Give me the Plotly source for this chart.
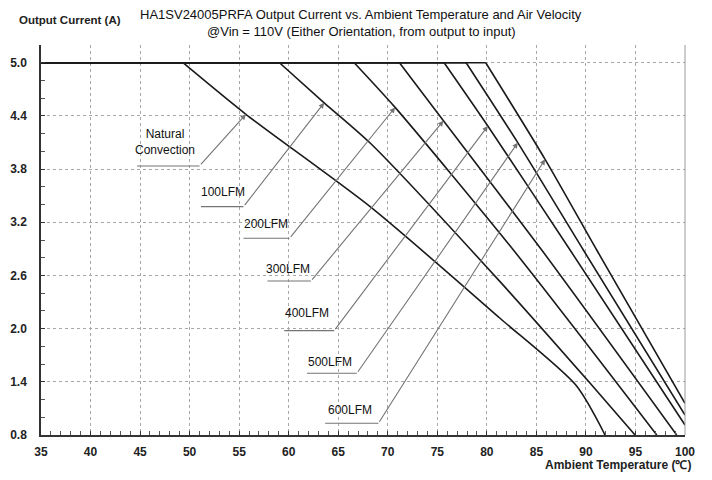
import numpy as np
import plotly.graph_objects as go

# ---------------- data ----------------
series_names = ["Natural Convection", "100LFM", "200LFM", "300LFM", "400LFM", "500LFM", "600LFM"]
label_texts = ["Natural<br>Convection", "100LFM", "200LFM", "300LFM", "400LFM", "500LFM", "600LFM"]

nc_temp = [35, 49.33, 55.68, 68.22, 81.33, 89.0, 91.93]
nc_curr = [5.0, 5.0, 4.418, 3.376, 2.117, 1.36, 0.8]

lfm100_temp = [35, 59.07, 63.58, 68.22, 81.33, 90.43, 94.96]
lfm100_curr = [5.0, 5.0, 4.548, 4.094, 2.530, 1.383, 0.8]

lfm200_temp = [35, 66.61, 70.74, 82.68, 97.15]
lfm200_curr = [5.0, 5.0, 4.496, 2.887, 0.8]

lfm300_temp = [35, 71.18, 75.62, 85.54, 99.16]
lfm300_curr = [5.0, 5.0, 4.346, 2.887, 0.8]

lfm400_temp = [35, 75.69, 80.10, 88.40, 100]
lfm400_curr = [5.0, 5.0, 4.286, 2.887, 0.913]

lfm500_temp = [35, 77.91, 83.12, 89.74, 100]
lfm500_curr = [5.0, 5.0, 4.098, 2.887, 1.026]

lfm600_temp = [35, 79.89, 85.88, 91.09, 100]
lfm600_curr = [5.0, 5.0, 3.910, 2.887, 1.158]

# temperature at which each label's arrow touches its curve
arrow_temp = [55.68, 63.58, 70.74, 75.62, 80.10, 83.12, 85.88]

x_ticks = list(range(35, 101, 5))
y_ticks = [0.8, 1.4, 2.0, 2.6, 3.2, 3.8, 4.4, 5.0]
y_tick_labels = ["0.8", "1.4", "2.0", "2.6", "3.2", "3.8", "4.4", "5.0"]

title_line1 = "HA1SV24005PRFA Output Current vs. Ambient Temperature and Air Velocity"
title_line2 = "@Vin = 110V (Either Orientation, from output to input)"
y_title = "Output Current (A)"
x_title = "Ambient Temperature (℃)"

# ---------------- label layout (positions in axis units) ----------------
underline_x0 = [44.69, 51.14, 55.44, 57.86, 59.55, 61.84, 63.68]
underline_x1 = [51.00, 55.44, 60.08, 62.24, 64.59, 66.88, 69.06]
underline_y = [3.835, 3.376, 3.019, 2.537, 1.977, 1.496, 0.932]
text_x = [47.54, 53.36, 57.73, 59.88, 61.84, 64.19, 66.2]
text_y = [4.111, 3.545, 3.177, 2.669, 2.173, 1.624, 1.082]

temps = [nc_temp, lfm100_temp, lfm200_temp, lfm300_temp, lfm400_temp, lfm500_temp, lfm600_temp]
currs = [nc_curr, lfm100_curr, lfm200_curr, lfm300_curr, lfm400_curr, lfm500_curr, lfm600_curr]

FONT = "Liberation Sans, Arial, sans-serif"
CURVE_COLOR = "#1a1a1a"
LEADER_COLOR = "#747474"

fig = go.Figure()
for name, t, c in zip(series_names, temps, currs):
    # flat full-load segment
    fig.add_trace(go.Scatter(x=t[:2], y=c[:2], mode="lines", name=name,
                             line=dict(color=CURVE_COLOR, width=1.6),
                             showlegend=False, hoverinfo="skip"))
    # derating segment
    fig.add_trace(go.Scatter(x=t[1:], y=c[1:], mode="lines", name=name,
                             line=dict(color=CURVE_COLOR, width=1.6, shape="spline", smoothing=0.7),
                             showlegend=False, hoverinfo="skip"))

annotations = []
shapes = []
for i in range(len(series_names)):
    tip_x = arrow_temp[i]
    tip_y = float(np.interp(tip_x, temps[i], currs[i]))
    shapes.append(dict(type="line", xref="x", yref="y",
                       x0=underline_x0[i], x1=underline_x1[i],
                       y0=underline_y[i], y1=underline_y[i],
                       line=dict(color=LEADER_COLOR, width=1.1)))
    annotations.append(dict(x=tip_x, y=tip_y, xref="x", yref="y",
                            ax=underline_x1[i], ay=underline_y[i], axref="x", ayref="y",
                            text="", showarrow=True, arrowhead=2, arrowsize=1.0,
                            arrowwidth=1.1, arrowcolor=LEADER_COLOR, standoff=0))
    annotations.append(dict(x=text_x[i], y=text_y[i], xref="x", yref="y",
                            text=label_texts[i], showarrow=False,
                            xanchor="center", yanchor="middle",
                            font=dict(family=FONT, size=12, color="#111")))

# right frame line
shapes.append(dict(type="line", xref="paper", yref="paper", x0=1, x1=1, y0=0, y1=1,
                   line=dict(color="#9a9a9a", width=1)))

# titles (paper coords relative to the plot area: 644 x 390 px)
annotations.append(dict(xref="paper", yref="paper", x=0.497, y=1.077,
                        text=title_line1, showarrow=False,
                        xanchor="center", yanchor="middle",
                        font=dict(family=FONT, size=13, color="#111")))
annotations.append(dict(xref="paper", yref="paper", x=0.497, y=1.035,
                        text=title_line2, showarrow=False,
                        xanchor="center", yanchor="middle",
                        font=dict(family=FONT, size=13, color="#111")))
annotations.append(dict(xref="paper", yref="paper", x=0.0455, y=1.063,
                        text=y_title, showarrow=False,
                        xanchor="center", yanchor="middle",
                        font=dict(family=FONT, size=11.5, color="#222", weight="bold")))
annotations.append(dict(xref="paper", yref="paper", x=1.013, y=-0.078,
                        text=x_title, showarrow=False,
                        xanchor="right", yanchor="middle",
                        font=dict(family=FONT, size=12, color="#222", weight="bold")))

# page body adds an 8 px offset, margins compensate for it
fig.update_layout(
    width=712, height=480,
    margin=dict(l=33, r=35, t=37, b=53, autoexpand=False),
    paper_bgcolor="white", plot_bgcolor="white",
    annotations=annotations,
    shapes=shapes,
    showlegend=False,
)

fig.update_xaxes(range=[35, 100], tickvals=x_ticks, automargin=False,
                 showgrid=True, gridcolor="#a8a8a8", griddash="dot", gridwidth=1,
                 showline=True, linecolor="#333", linewidth=1.5,
                 ticks="inside", ticklen=4, tickcolor="#333", ticklabelstandoff=5,
                 minor=dict(dtick=1, tick0=35, ticks="inside", ticklen=4, tickcolor="#555", showgrid=False),
                 tickfont=dict(family=FONT, size=12, color="#222", weight="bold"),
                 zeroline=False)
fig.update_yaxes(range=[0.8, 5.2], tickvals=y_ticks, ticktext=y_tick_labels, automargin=False,
                 showgrid=True, gridcolor="#a8a8a8", griddash="dot", gridwidth=1,
                 showline=True, linecolor="#333", linewidth=1.5,
                 ticks="inside", ticklen=4, tickcolor="#333", ticklabelstandoff=10,
                 minor=dict(dtick=0.2, tick0=0.8, ticks="inside", ticklen=4, tickcolor="#555", showgrid=False),
                 tickfont=dict(family=FONT, size=12, color="#222", weight="bold"),
                 zeroline=False)

fig.write_html("out.html")
